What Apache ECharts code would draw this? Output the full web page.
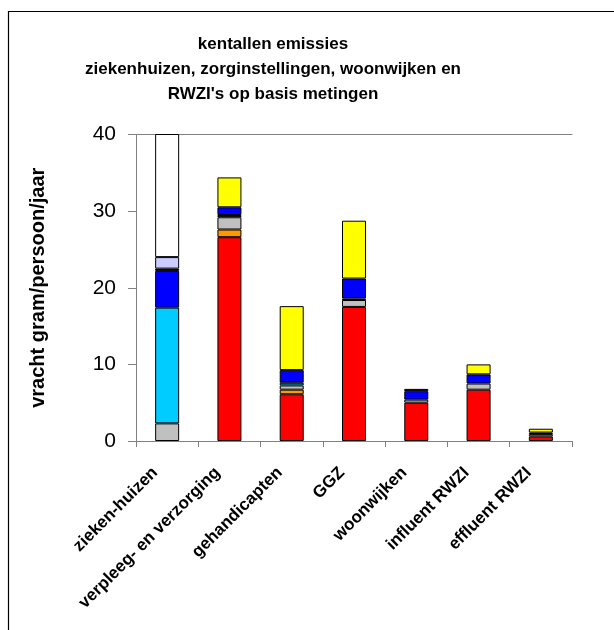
<!DOCTYPE html>
<html>
<head>
<meta charset="utf-8">
<script src="https://cdn.jsdelivr.net/npm/echarts@6/dist/echarts.min.js"></script>
<style>
  html, body { margin: 0; padding: 0; background: #fff; }
  #chart { width: 614px; height: 630px; }
</style>
</head>
<body>
<div id="chart"></div>
<script>
// Categories along the x axis
const categories = ['zieken-huizen', 'verpleeg- en verzorging', 'gehandicapten', 'GGZ', 'woonwijken', 'influent RWZI', 'effluent RWZI'];

// Stacked contributions (gram/persoon/jaar), bottom to top
const rood     = [0,    26.6, 6.1,  17.5, 5.0, 6.7, 0.6];
const oranje   = [0,    1.0,  0.6,  0,    0,   0,   0];
const grijs    = [2.3,  1.6,  0.55, 0.9,  0.4, 0.8, 0.3];
const zwart1   = [0,    0.3,  0,    0.2,  0,   0,   0];
const cyaan    = [15.1, 0,    0.35, 0,    0,   0,   0];
const blauw    = [4.8,  1.0,  1.65, 2.6,  1.1, 1.2, 0.2];
const zwart2   = [0.3,  0,    0,    0,    0.3, 0,   0];
const lavendel = [1.5,  0,    0,    0,    0,   0,   0];
const geel     = [0,    3.9,  8.35, 7.55, 0,   1.3, 0.5];
const wit      = [20,   0,    0,    0,    0,   0,   0];

// Y axis ticks
const yTicks = [0, 10, 20, 30, 40];

const seriesDefs = [
  { name: 'rood', data: rood, color: '#FF0000' },
  { name: 'oranje', data: oranje, color: '#FF9900' },
  { name: 'grijs', data: grijs, color: '#C0C0C0' },
  { name: 'zwart1', data: zwart1, color: '#000000' },
  { name: 'cyaan', data: cyaan, color: '#00CCFF' },
  { name: 'blauw', data: blauw, color: '#0000FF' },
  { name: 'zwart2', data: zwart2, color: '#000000' },
  { name: 'lavendel', data: lavendel, color: '#CCCCFF' },
  { name: 'geel', data: geel, color: '#FFFF00' },
  { name: 'wit', data: wit, color: '#FFFFFF' }
];

const FONT = 'Liberation Sans, Arial, sans-serif';
const chart = echarts.init(document.getElementById('chart'), null, { renderer: 'canvas' });

chart.setOption({
  animation: false,
  backgroundColor: '#ffffff',
  graphic: [{
    type: 'rect',
    shape: { x: 8.5, y: 11.5, width: 640, height: 660 },
    style: { fill: 'none', stroke: '#000000', lineWidth: 1.2 },
    silent: true
  }],
  title: {
    text: 'kentallen emissies\nziekenhuizen, zorginstellingen, woonwijken en\nRWZI\'s op basis metingen',
    left: 268,
    top: 27,
    textAlign: 'center',
    textStyle: { fontFamily: FONT, fontSize: 17, fontWeight: 'bold', color: '#000', lineHeight: 25 }
  },
  grid: { left: 136, top: 134.5, right: 42, bottom: 189, containLabel: false },
  xAxis: [{
    type: 'category',
    data: categories,
    axisLine: { lineStyle: { color: '#808080', width: 1 } },
    axisTick: { show: true, length: 6, lineStyle: { color: '#808080' } },
    axisLabel: {
      rotate: 45,
      interval: 0,
      margin: 17,
      padding: [0, 17, 0, 0],
      fontFamily: FONT, fontSize: 17, fontWeight: 'bold', color: '#000'
    },
    splitLine: { show: false }
  }, {
    type: 'category',
    data: categories,
    position: 'top',
    axisLine: { show: true, lineStyle: { color: '#808080', width: 1 } },
    axisTick: { show: false },
    axisLabel: { show: false }
  }],
  yAxis: {
    type: 'value',
    min: yTicks[0],
    max: yTicks[yTicks.length - 1],
    interval: 10,
    name: 'vracht gram/persoon/jaar',
    nameLocation: 'middle',
    nameGap: 88,
    nameTextStyle: { fontFamily: FONT, fontSize: 20, fontWeight: 'bold', color: '#000' },
    axisLine: { show: true, lineStyle: { color: '#808080', width: 1 } },
    axisTick: { show: true, length: 8, lineStyle: { color: '#808080' } },
    axisLabel: { margin: 20, fontFamily: FONT, fontSize: 21, color: '#000' },
    splitLine: { show: false }
  },
  series: seriesDefs.map(s => ({
    name: s.name,
    type: 'bar',
    stack: 'totaal',
    barWidth: 24,
    clip: true,
    data: s.data.map(v => (v === 0 ? '-' : v)),
    itemStyle: { color: s.color, borderColor: '#000000', borderWidth: 1 }
  }))
});
</script>
</body>
</html>
